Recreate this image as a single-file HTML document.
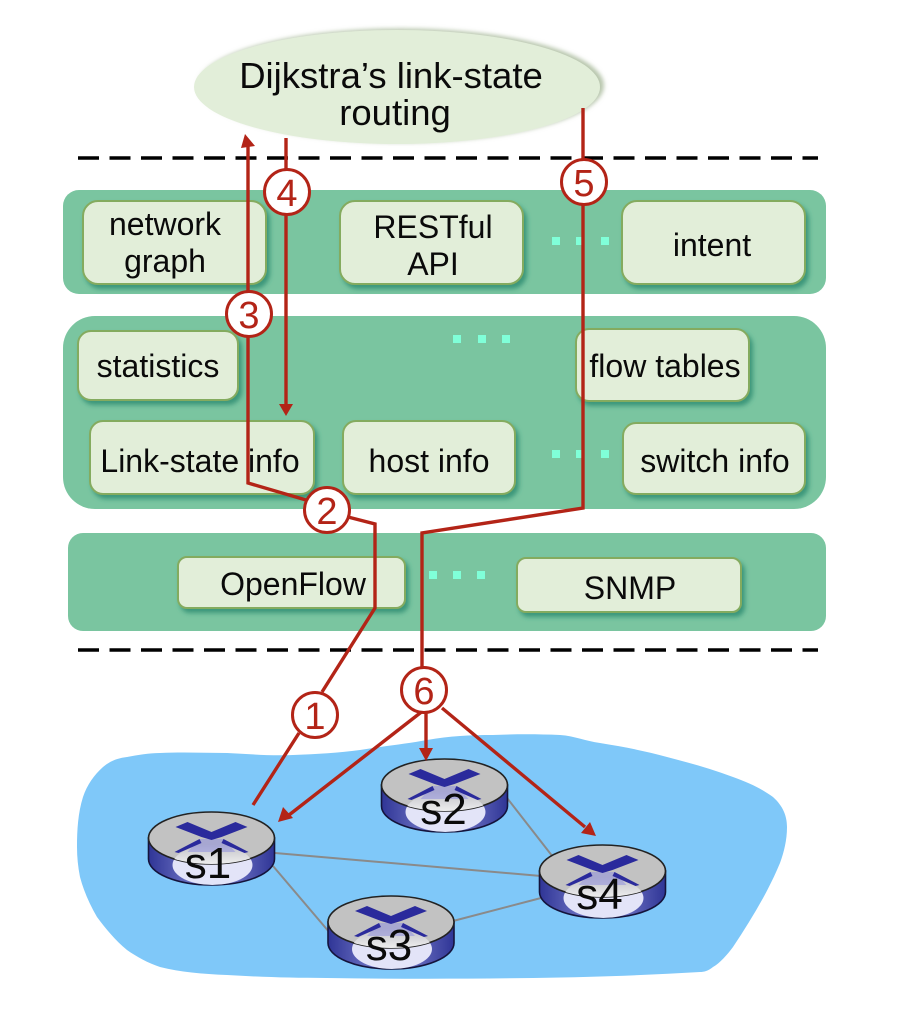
<!DOCTYPE html>
<html><head><meta charset="utf-8"><style>
html,body{margin:0;padding:0;background:#fff}
svg{display:block}
text{font-family:"Liberation Sans",sans-serif;fill:#0a0a0a;text-anchor:middle}
.b{fill:#e2eed9;stroke:#84ab5e;stroke-width:2}
.p{fill:#7ac5a0}
.d{fill:#80ffd8}
.r{fill:none;stroke:#b32417;stroke-width:3.4}
.n{fill:#b32417;font-size:38px}
.c{fill:#fff;stroke:#b32417;stroke-width:3}
.t{font-size:32px}
.dash{stroke:#000;stroke-width:3.5;stroke-dasharray:21 10.5}
.g{stroke:#8a8a8a;stroke-width:2;fill:none}
</style></head><body>
<svg width="904" height="1029" viewBox="0 0 904 1029" xmlns="http://www.w3.org/2000/svg">
<defs>
<filter id="s" x="-20%" y="-20%" width="140%" height="150%"><feDropShadow dx="3" dy="4" stdDeviation="2.5" flood-color="#2a8a70" flood-opacity=".8"/></filter>
<filter id="e" x="-10%" y="-10%" width="120%" height="120%"><feDropShadow dx="4" dy="-1.5" stdDeviation="2" flood-color="#9aae8a" flood-opacity=".7"/></filter>
<linearGradient id="side" x1="0" x2="1" y1="0" y2="0"><stop offset="0" stop-color="#2f3596"/><stop offset=".5" stop-color="#8a8fd8"/><stop offset="1" stop-color="#2f3596"/></linearGradient>
<linearGradient id="lt" x1="0" x2="0" y1="0" y2="1"><stop offset="0" stop-color="#c2c2c8"/><stop offset=".5" stop-color="#f0f0f0"/><stop offset="1" stop-color="#f4f4f4"/></linearGradient>
<clipPath id="body"><path d="M-63 1V22A63 26 0 0 0 63 22V1Z"/></clipPath>
<clipPath id="topc"><ellipse cx="0" cy="1" rx="63" ry="26"/></clipPath>
<g id="rt">
<path d="M-63 1V22A63 26 0 0 0 63 22V1Z" fill="url(#side)" stroke="#14143c" stroke-width="1.6"/>
<ellipse cx="1" cy="28" rx="40" ry="20" fill="#e3e4f8" clip-path="url(#body)"/>
<ellipse cx="0" cy="1" rx="63" ry="26" fill="#c2c2c2" stroke="#222" stroke-width="1.6"/>
<g clip-path="url(#topc)"><ellipse cx="1" cy="28" rx="40" ry="20" fill="url(#lt)"/></g>
<path d="M-12 2L12 2L24 15L-24 15Z" fill="#8c8ce0" opacity=".5"/>
<path d="M-36 -10L-24 -15L0 -5L24 -15L36 -10L10 0L0 3L-10 0Z" fill="#2a2a9c"/>
<path d="M-37 15L-12 2L-10 6L-33 16Z M37 15L12 2L10 6L33 16Z" fill="#2a2a9c"/>
</g>
</defs>

<!-- dashed separators -->
<line x1="78" y1="158" x2="818" y2="158" class="dash"/>
<line x1="78" y1="650" x2="818" y2="650" class="dash"/>

<!-- controller ellipse -->
<ellipse cx="397" cy="87" rx="203" ry="57" fill="#e2eed9" filter="url(#e)"/>
<text x="391" y="88" style="font-size:36.5px">Dijkstra’s link-state</text>
<text x="395" y="125" style="font-size:36.5px">routing</text>

<!-- panels -->
<rect class="p" x="63" y="190" width="763" height="104" rx="16"/>
<rect class="p" x="63" y="316" width="763" height="193" rx="32"/>
<rect class="p" x="68" y="533" width="758" height="98" rx="15"/>

<!-- boxes -->
<rect class="b" x="83" y="201" width="183" height="83" rx="15" filter="url(#s)"/>
<rect class="b" x="340" y="201" width="183" height="83" rx="15" filter="url(#s)"/>
<rect class="b" x="622" y="201" width="183" height="83" rx="15" filter="url(#s)"/>
<rect class="b" x="78" y="331" width="160" height="69" rx="13" filter="url(#s)"/>
<rect class="b" x="576" y="329" width="173" height="72" rx="13" filter="url(#s)"/>
<rect class="b" x="90" y="421" width="224" height="73" rx="13" filter="url(#s)"/>
<rect class="b" x="343" y="421" width="172" height="73" rx="13" filter="url(#s)"/>
<rect class="b" x="623" y="423" width="182" height="71" rx="13" filter="url(#s)"/>
<rect class="b" x="178" y="557" width="227" height="51" rx="9" filter="url(#s)"/>
<rect class="b" x="517" y="558" width="224" height="54" rx="9" filter="url(#s)"/>

<!-- ellipsis dots -->
<g class="d">
<rect x="552" y="237" width="8" height="8"/><rect x="576" y="237" width="8" height="8"/><rect x="601" y="237" width="8" height="8"/>
<rect x="453" y="335" width="8" height="8"/><rect x="478" y="335" width="8" height="8"/><rect x="502" y="335" width="8" height="8"/>
<rect x="552" y="450" width="8" height="8"/><rect x="576" y="450" width="8" height="8"/><rect x="601" y="450" width="8" height="8"/>
<rect x="429" y="571" width="8" height="8"/><rect x="453" y="571" width="8" height="8"/><rect x="477" y="571" width="8" height="8"/>
</g>

<!-- box text -->
<g class="t">
<text x="165" y="235">network</text>
<text x="165" y="272">graph</text>
<text x="433" y="238">RESTful</text>
<text x="433" y="275">API</text>
<text x="712" y="256">intent</text>
<text x="158" y="377">statistics</text>
<text x="665" y="377">flow tables</text>
<text x="200" y="472">Link-state info</text>
<text x="429" y="472">host info</text>
<text x="715" y="472">switch info</text>
<text x="293" y="595">OpenFlow</text>
<text x="630" y="599">SNMP</text>
</g>

<!-- network cloud -->
<path d="M160 753C185 752 205 753 227 753C250 754 270 756 293 755C318 754 338 753 360 750C385 746 405 744 427 740C450 736 470 735 493 735C515 734 538 734 560 735C575 736 585 741 600 743C625 747 645 751 667 757C690 763 712 769 733 777C750 783 762 789 773 797C783 806 787 816 787 827C787 840 784 852 780 863C768 892 751 920 733 947C727 955 720 963 713 967C708 971 704 972 700 972C650 975 600 977 533 978C460 979 395 979 327 978C290 978 260 977 227 975C202 974 180 972 160 967C148 963 137 957 127 950C115 940 106 929 97 917C90 905 84 892 80 877C78 867 77 857 77 847C77 830 78 813 83 797C87 785 94 775 103 767C110 761 118 758 127 757C138 755 149 753 160 753Z" fill="#7fc8f9"/>

<!-- links -->
<path class="g" d="M275 853L541 876M273 866L330 933M507 798L553 857M453 921L541 898"/>

<!-- routers -->
<use href="#rt" x="211.5" y="837"/>
<use href="#rt" x="444.5" y="784"/>
<use href="#rt" x="391" y="921"/>
<use href="#rt" x="602.5" y="870"/>
<g style="font-size:44px">
<text x="208" y="878">s1</text>
<text x="443.5" y="824">s2</text>
<text x="389" y="960">s3</text>
<text x="599.5" y="909">s4</text>
</g>

<!-- red connectors -->
<path class="r" d="M253 805L299 733M322 692L375 608V524L348 517"/>
<path class="r" d="M306 500L248 483V146"/>
<path fill="#b32417" d="M245 134L255 146L241 148Z"/>
<path class="r" d="M286 138V406"/>
<path fill="#b32417" d="M286 416L279 404H293Z"/>
<path class="r" d="M583 108V508L422 533V670"/>
<path class="r" d="M424 710L289 815"/>
<path fill="#b32417" d="M278 822L283 807L293 818Z"/>
<path class="r" d="M426 712V750"/>
<path fill="#b32417" d="M426 761L419 748H433Z"/>
<path class="r" d="M442 708L585 827"/>
<path fill="#b32417" d="M596 836L581 833L590 822Z"/>

<!-- numbered circles -->
<g text-anchor="middle">
<circle class="c" cx="315" cy="715" r="22.5"/><text class="n" x="315" y="729">1</text>
<circle class="c" cx="327" cy="510" r="22.5"/><text class="n" x="327" y="524">2</text>
<circle class="c" cx="249" cy="314" r="22.5"/><text class="n" x="249" y="328">3</text>
<circle class="c" cx="287" cy="192" r="22.5"/><text class="n" x="287" y="206">4</text>
<circle class="c" cx="584" cy="182" r="22.5"/><text class="n" x="584" y="196">5</text>
<circle class="c" cx="424" cy="690" r="22.5"/><text class="n" x="424" y="704">6</text>
</g>
</svg>
</body></html>
